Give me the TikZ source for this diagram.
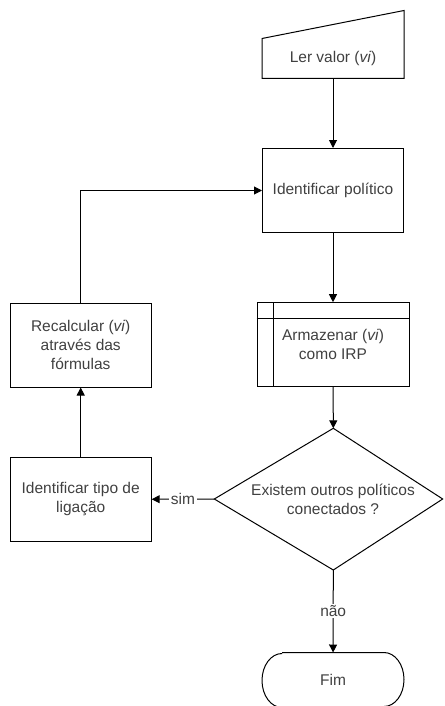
\documentclass[tikz,border=0pt]{standalone}
\usepackage{fontspec}
\setmainfont{Liberation Sans}
\usetikzlibrary{arrows.meta,calc}
\tikzset{>={Triangle[length=8pt,width=8pt]}}
\tikzset{
  txt/.style={align=center, text=black!75, font=\fontsize{15.5}{19}\selectfont},
  box/.style={txt, draw, line width=1pt, minimum width=141pt, minimum height=84pt},
  lbl/.style={txt, fill=white, inner sep=1.5pt},
  flow/.style={->, line width=1pt},
  edge/.style={line width=1pt}
}

\begin{document}
\begin{tikzpicture}[x=1pt,y=-1pt]
    \useasboundingbox (0,0) rectangle (444,706);
    % boxes
    \node[box, draw=none, minimum height=39pt] (ler) at (333,58.5) {Ler valor (\textit{vi})};
    \draw[edge] (ler.north west) -- ($(ler.north east)+(0,-28)$) -- (ler.south east) -- (ler.south west) -- cycle;
    \node[box] (ident) at (333,190.5) {Identificar político};
    \node[box, minimum width=152pt] (armaz) at (333,344.7) {Armazenar (\textit{vi})\\como IRP};
    \draw[edge] ($(armaz.north west)+(16.7,0)$) -- ($(armaz.south west)+(16.7,0)$);
    \draw[edge] ($(armaz.north west)+(0,16.6)$) -- ($(armaz.north east)+(0,16.6)$);
    \node[box] (recalc) at (80.7,345) {Recalcular (\textit{vi})\\através das\\fórmulas};
    \node[box] (tipo) at (80.7,499.5) {Identificar tipo de\\ligação};
    % decision
    \node[txt] (ask) at (333,499.5) {Existem outros políticos\\conectados ?};
    \coordinate (dtop) at (333.3,428.3);
    \coordinate (dleft) at (214.3,499);
    \coordinate (dright) at (442.7,499);
    \coordinate (dbot) at (333.3,570);
    \draw[edge] (dtop) -- (dright) -- (dbot) -- (dleft) -- cycle;
    % terminator
    \node[box, draw=none, minimum height=54pt] (fim) at (333,680) {Fim};
    \draw[edge] ($(fim.north west)+(20,0)$) -- ($(fim.north east)+(-20,0)$)
        arc[start angle=-90, end angle=90, x radius=20, y radius=27]
        -- ($(fim.south west)+(20,0)$)
        arc[start angle=90, end angle=270, x radius=20, y radius=27];
    % connectors
    \draw[flow] (ler) -- (ident);
    \draw[flow] (ident) -- (armaz);
    \draw[flow] (armaz) -- (dtop);
    \draw[flow] (dleft) -- node[lbl] {sim} (tipo);
    \draw[flow] (dbot) -- node[lbl] {não} (fim);
    \draw[flow] (tipo) -- (recalc);
    \draw[flow] (recalc) |- (ident);
\end{tikzpicture}
\end{document}
